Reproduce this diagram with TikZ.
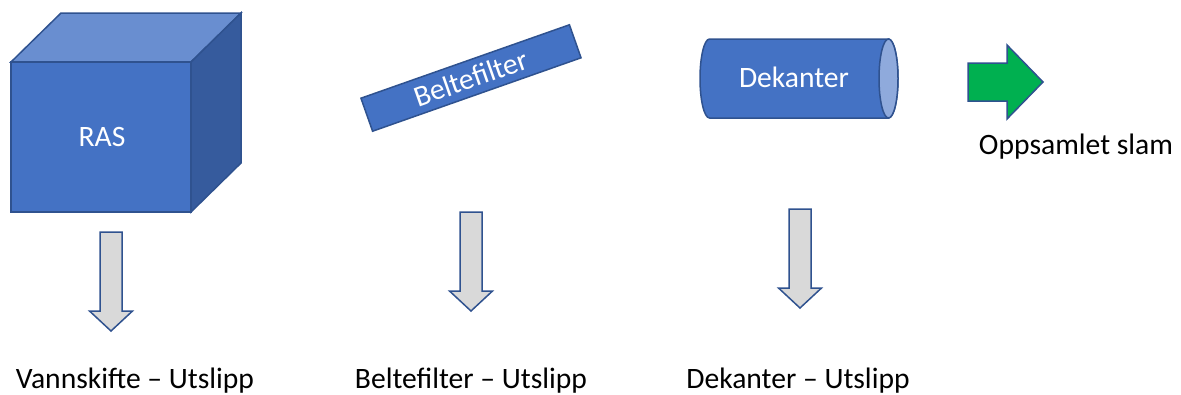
\documentclass[tikz,border=0pt]{standalone}
\usepackage{fontspec}
\setmainfont{Carlito}
\definecolor{pblue}{RGB}{68,114,196}
\definecolor{pedge}{RGB}{47,82,143}
\definecolor{ptop}{RGB}{105,142,208}
\definecolor{pside}{RGB}{54,91,157}
\definecolor{pend}{RGB}{143,170,220}
\definecolor{pgrey}{RGB}{217,217,217}
\definecolor{pgreen}{RGB}{0,176,80}
\tikzset{
  edge/.style={draw=pedge, line width=1.5pt, line join=miter},
  face/.style={edge, fill=pblue},
  outarrow/.style={edge, fill=pgrey},
  lbl/.style={font=\fontsize{29.6}{35}\selectfont, text=black, inner sep=0pt, anchor=base},
  wlbl/.style={font=\fontsize{29.6}{35}\selectfont, text=white, inner sep=0pt, anchor=base},
}
\newcommand{\dnarrow}[3]{% center x, top y, name
  \draw[outarrow] (#1-11,#2) -- (#1+11,#2) -- (#1+11,#2+79) -- (#1+21.5,#2+79)
    -- (#1,#2+99) -- (#1-21.5,#2+79) -- (#1-11,#2+79) -- cycle;
  \coordinate (#3) at (#1,#2);
}
\begin{document}
\begin{tikzpicture}[x=1pt,y=-1pt]
\useasboundingbox (0,0) rectangle (1181,394);
% RAS cube
\draw[edge, fill=ptop] (11,62) -- (61,13) -- (241,13) -- (191,62) -- cycle;
\draw[edge, fill=pside] (191,62) -- (241,13) -- (241,163) -- (191,212) -- cycle;
\draw[face] (11,62) rectangle (191,212);
\node[wlbl] (ras) at (102,146.5) {RAS};
% Beltefilter
\node[face, rotate=19.4, minimum width=221pt, minimum height=35pt, inner sep=0pt,
  text=white, font=\fontsize{29.6}{35}\selectfont] (belt) at (471,78) {Beltefilter};
% Dekanter cylinder
\draw[face] (709.5,39) -- (888.5,39) arc[start angle=-90, end angle=90, x radius=9.5, y radius=39.5]
  -- (709.5,118) arc[start angle=90, end angle=270, x radius=9.5, y radius=39.5] -- cycle;
\draw[edge, fill=pend] (888.5,78.5) ellipse[x radius=9.5, y radius=39.5];
\node[wlbl] (dek) at (794,87.5) {Dekanter};
% green arrow
\draw[edge, fill=pgreen] (968,63) -- (1007,63) -- (1007,45) -- (1043,82) -- (1007,119)
  -- (1007,101) -- (968,101) -- cycle;
\node[lbl] (slam) at (1076,154) {Oppsamlet slam};
% down arrows
\dnarrow{111}{232}{a1}
\dnarrow{471}{212}{a2}
\dnarrow{800}{209}{a3}
% labels
\node[lbl] (l1) at (135,388) {Vannskifte – Utslipp};
\node[lbl] (l2) at (471,388) {Beltefilter – Utslipp};
\node[lbl] (l3) at (798,388) {Dekanter – Utslipp};
\end{tikzpicture}
\end{document}
